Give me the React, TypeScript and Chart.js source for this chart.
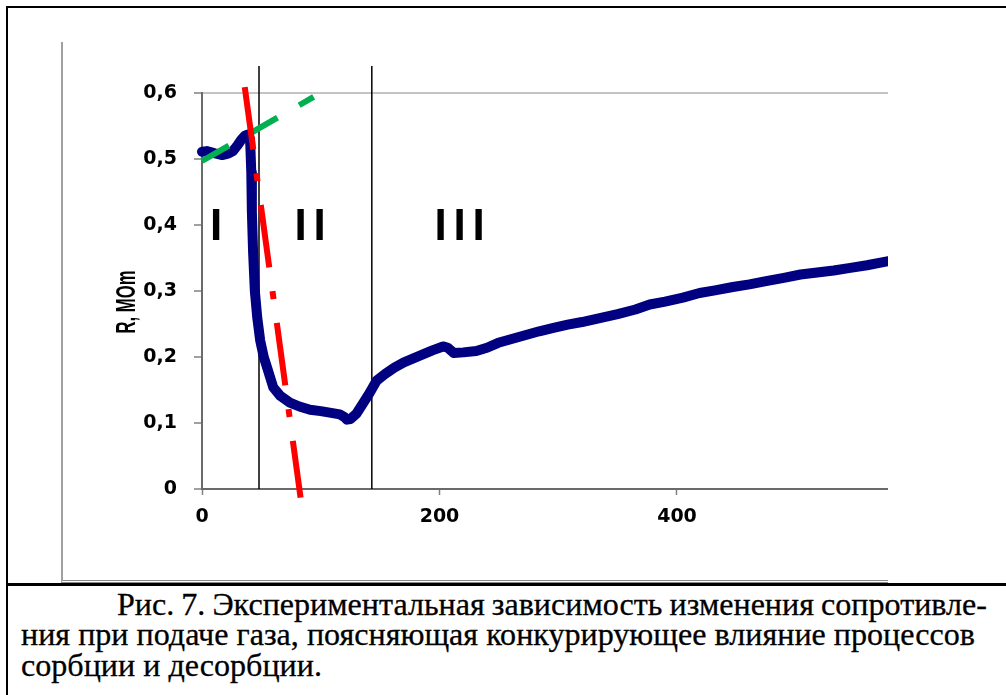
import React, { useEffect, useRef, useMemo } from "react";
import { Chart, registerables } from "chart.js";

Chart.register(...registerables);

// ---- data ----
const timeS = [
  0, 4, 8, 12, 17, 22, 26, 30, 33, 36,
  38.5, 40.5, 41.5, 42, 43, 44.5, 46.5, 49, 52, 55,
  60, 66, 74, 82, 91, 100, 110, 116, 120, 122,
  125, 130, 135, 141, 147, 154, 162, 170, 178, 186,
  194, 203, 207, 212, 220, 231, 240, 249.5, 260, 272,
  284, 296, 308, 320, 335, 350, 365, 377, 390, 405,
  419, 432, 447, 461, 475, 490, 504, 518, 532, 546,
  560, 577,
];
const resistanceMOhm = [
  0.511, 0.512, 0.51, 0.508, 0.506, 0.508, 0.512, 0.521, 0.529, 0.535,
  0.537, 0.53, 0.48, 0.42, 0.36, 0.3, 0.26, 0.225, 0.2, 0.183,
  0.154, 0.141, 0.131, 0.125, 0.12, 0.118, 0.115, 0.113, 0.109, 0.105,
  0.106, 0.114, 0.128, 0.145, 0.164, 0.174, 0.184, 0.192, 0.198, 0.204,
  0.21, 0.216, 0.214, 0.206, 0.207, 0.209, 0.214, 0.2215, 0.227, 0.233,
  0.239, 0.244, 0.249, 0.253, 0.259, 0.265, 0.272, 0.2795, 0.284, 0.29,
  0.297, 0.301, 0.306, 0.31, 0.315, 0.32, 0.325, 0.328, 0.331, 0.335,
  0.339, 0.345,
];
const yTicks = [0, 0.1, 0.2, 0.3, 0.4, 0.5, 0.6];
const xTicks = [0, 200, 400];
const xMin = 0;
const xMax = 577.7;
const yMin = 0;
const yMax = 0.6;

const boundaryX = [48, 143];
const boundaryTop = 0.641;

const sorptionLineX = [36, 83];
const sorptionLineY = [0.609, -0.013];
const baseLineX = [0, 94];
const baseLineY = [0.497, 0.594];

const zoneNames = ["I", "II", "III"];
const zoneX = [11.8, 91, 217];
const zoneY = 0.395;

const yTitle = "R, MOm";

const captionLines = [
  "Рис. 7. Экспериментальная зависимость изменения сопротивле-",
  "ния при подаче газа, поясняющая конкурирующее влияние процессов",
  "сорбции и десорбции.",
];

const serifFamily = "'Liberation Serif', 'Times New Roman', serif";
const sansFamily = "'Liberation Sans', Arial, sans-serif";
const capSize = 32;

const fmtY = (v: number) => (v === 0 ? "0" : v.toFixed(1).replace(".", ","));

const overlayPlugin = {
  id: "overlayText",
  afterDatasetsDraw(chart: any) {
    const { ctx, scales } = chart;
    const x = scales.x;
    const y = scales.y;
    ctx.save();
    ctx.fillStyle = "#000";
    ctx.font = "bold 44px " + sansFamily;
    ctx.textAlign = "center";
    ctx.textBaseline = "middle";
    zoneNames.forEach((name, i) => {
      const cx = x.getPixelForValue(zoneX[i]);
      const cy = y.getPixelForValue(zoneY);
      const n = name.length;
      for (let k = 0; k < n; k++) {
        ctx.fillText(name[k], cx + (k - (n - 1) / 2) * 19, cy);
      }
    });
    ctx.restore();

    // y axis title
    ctx.save();
    ctx.translate(64, 260);
    ctx.rotate(-Math.PI / 2);
    ctx.font = "bold 15px " + sansFamily;
    const w = ctx.measureText(yTitle).width;
    ctx.scale(63 / w, 1.9);
    ctx.textAlign = "center";
    ctx.textBaseline = "middle";
    ctx.fillStyle = "#000";
    ctx.fillText(yTitle, 0, 0);
    ctx.restore();
  },
};

const tickFont = { family: "'DejaVu Sans', sans-serif", size: 19, weight: "bold" as const };

export default function App() {
  const canvasRef = useRef<HTMLCanvasElement>(null);

  useEffect(() => {
    const seg = (xs: number[], ys: number[]) => xs.map((v, i) => ({ x: v, y: ys[i] }));
    const chart = new Chart(canvasRef.current!, {
      type: "scatter",
      data: {
        datasets: [
          {
            label: "sorption",
            data: seg(sorptionLineX, sorptionLineY),
            showLine: true,
            borderColor: "#ff0000",
            borderWidth: 6,
            borderDash: [63, 24, 8, 24],
            borderCapStyle: "butt",
            pointRadius: 0,
            clip: false as any,
            order: 0,
          },
          {
            label: "base",
            data: seg(baseLineX, baseLineY),
            showLine: true,
            borderColor: "#00b050",
            borderWidth: 6,
            borderDash: [31, 25],
            borderCapStyle: "butt",
            pointRadius: 0,
            clip: false as any,
            order: 1,
          },
          {
            label: "R",
            data: timeS.map((t, i) => ({ x: t, y: resistanceMOhm[i] })),
            showLine: true,
            borderColor: "#000080",
            borderWidth: 10,
            borderJoinStyle: "round",
            borderCapStyle: "round",
            pointRadius: 0,
            clip: { left: 6, top: 6, right: 0, bottom: 6 } as any,
            order: 2,
          },
          ...boundaryX.map((bx, i) => ({
            label: "boundary" + i,
            data: seg([bx, bx], [0, boundaryTop]),
            showLine: true,
            borderColor: "#000",
            borderWidth: 1.5,
            pointRadius: 0,
            clip: false as any,
            order: 3,
          })),
        ],
      },
      options: {
        animation: false,
        responsive: false,
        devicePixelRatio: 1,
        events: [],
        layout: { padding: { top: 51, left: 0, right: 0, bottom: 0 } },
        plugins: { legend: { display: false }, tooltip: { enabled: false } },
        scales: {
          x: {
            type: "linear",
            min: xMin,
            max: xMax,
            afterBuildTicks: (s: any) => {
              s.ticks = xTicks.map((v) => ({ value: v }));
            },
            afterFit: (s: any) => {
              s.height = 91;
            },
            ticks: { font: tickFont, color: "#000", padding: 11, maxRotation: 0 },
            grid: {
              color: "rgba(0,0,0,0)",
              drawTicks: true,
              tickLength: 6,
              tickColor: "#808080",
              tickWidth: 1.5,
            },
            border: { display: true, color: "#6a6a6a", width: 2 },
          },
          y: {
            type: "linear",
            min: yMin,
            max: yMax,
            afterBuildTicks: (s: any) => {
              s.ticks = yTicks.map((v) => ({ value: v }));
            },
            afterFit: (s: any) => {
              s.width = 139;
            },
            ticks: { font: tickFont, color: "#000", padding: 17, callback: (v: any) => fmtY(Number(v)) },
            grid: {
              color: (c: any) =>
                c.tick && Math.abs(c.tick.value - yMax) < 1e-9 ? "#c4c4c4" : "rgba(0,0,0,0)",
              lineWidth: 2,
              drawTicks: true,
              tickLength: 8,
              tickColor: "#808080",
              tickWidth: 1.5,
            },
            border: { display: true, color: "#6a6a6a", width: 2 },
          },
        },
      },
      plugins: [overlayPlugin],
    } as any);
    return () => chart.destroy();
  }, []);

  const cap = useMemo(() => {
    const c = document.createElement("canvas").getContext("2d")!;
    c.font = `${capSize}px ${serifFamily}`;
    const w2 = c.measureText(captionLines[1]).width;
    const s = 954 / w2;
    const w1 = c.measureText(captionLines[0]).width;
    const sp1 = captionLines[0].split(" ").length - 1;
    const ws1 = (870 / s - w1) / sp1;
    return { s, ws1 };
  }, []);

  const lineStyle = (left: number, baseline: number, ws = 0): React.CSSProperties => ({
    position: "absolute",
    left,
    top: baseline - 26.3,
    fontFamily: serifFamily,
    fontSize: capSize,
    lineHeight: "31px",
    whiteSpace: "nowrap",
    color: "#000",
    transform: `scaleX(${cap.s})`,
    transformOrigin: "0 0",
    wordSpacing: ws,
    WebkitTextStroke: "0.3px #000",
  });

  return (
    <div
      style={{
        position: "absolute",
        left: 0,
        top: 0,
        width: 1006,
        height: 695,
        overflow: "hidden",
        background: "#fff",
      }}
    >
      <div
        style={{
          position: "absolute",
          left: 6,
          top: 6,
          width: 1100,
          height: 800,
          border: "2px solid #000",
        }}
      />
      <div
        style={{
          position: "absolute",
          left: 61,
          top: 42,
          width: 825,
          height: 538,
          borderLeft: "2px solid #a0a0a0",
          borderBottom: "3px double #8a8a8a",
        }}
      >
        <canvas ref={canvasRef} width={825} height={538} style={{ display: "block", width: 825, height: 538 }} />
      </div>
      <div style={{ position: "absolute", left: 6, top: 583, width: 1000, height: 3, background: "#000" }} />
      <div style={lineStyle(117, 615, cap.ws1)}>{captionLines[0]}</div>
      <div style={lineStyle(21, 645)}>{captionLines[1]}</div>
      <div style={lineStyle(21, 676)}>{captionLines[2]}</div>
    </div>
  );
}
